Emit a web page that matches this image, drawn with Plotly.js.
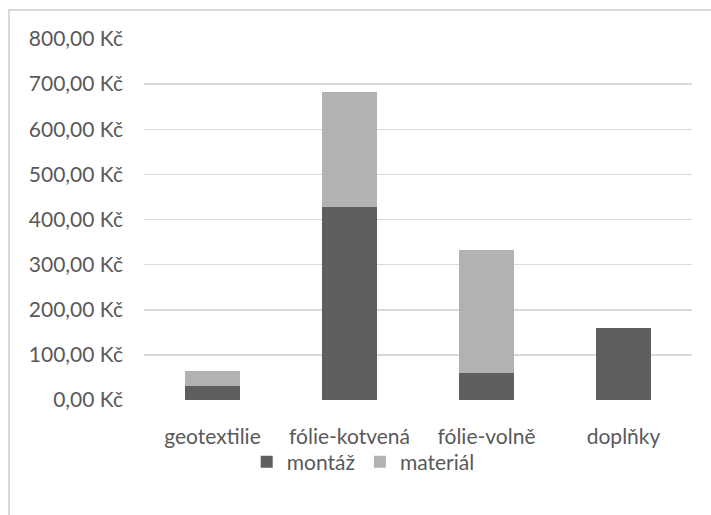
<!DOCTYPE html>
<html>
<head>
<meta charset="utf-8">
<script src="https://cdn.plot.ly/plotly-3.0.1.min.js"></script>
<style>
  html, body { margin: 0; padding: 0; background: #fff; }
  #wrap { position: relative; width: 711px; height: 515px; }
  #chart { width: 711px; height: 515px; }
  #frame { position: absolute; left: 8px; top: 9px; width: 720px; height: 520px;
           border-left: 2px solid #d9d9d9; border-top: 2px solid #d9d9d9; pointer-events: none; }
</style>
</head>
<body>
<div id="wrap">
  <div id="chart"></div>
  <div id="frame"></div>
</div>
<script>
const categories = ["geotextilie", "fólie-kotvená", "fólie-volně", "doplňky"];
const montaz = [31, 428, 60, 160];
const material = [34, 254, 272, 0];
const tickValues = [0, 100, 200, 300, 400, 500, 600, 700, 800];
const tickLabels = ["0,00 Kč", "100,00 Kč", "200,00 Kč", "300,00 Kč", "400,00 Kč",
                    "500,00 Kč", "600,00 Kč", "700,00 Kč", "800,00 Kč"];

const font = { family: "Lato, 'Noto Sans', sans-serif", size: 21, color: "#595959" };

const data = [
  { type: "bar", name: "montáž", x: categories, y: montaz,
    marker: { color: "#5f5f5f" }, hoverinfo: "skip" },
  { type: "bar", name: "materiál", x: categories, y: material,
    marker: { color: "#b2b2b2" }, hoverinfo: "skip" }
];

const layout = {
  width: 711, height: 515,
  margin: { l: 144, r: 19, t: 39, b: 115 },
  paper_bgcolor: "#ffffff", plot_bgcolor: "#ffffff",
  barmode: "stack", bargap: 0.6,
  font: font,
  showlegend: true,
  legend: { orientation: "h", x: 0.40, xanchor: "center", y: -0.172, yanchor: "middle",
            bgcolor: "rgba(0,0,0,0)", font: font, traceorder: "normal",
            itemwidth: 30, tracegroupgap: 0 },
  xaxis: { showgrid: false, zeroline: false, showline: false, ticks: "",
           tickfont: font, ticklabelstandoff: 22, fixedrange: true },
  yaxis: { range: [0, 800], tickvals: tickValues, ticktext: tickLabels,
           showgrid: true, gridcolor: "#d9d9d9", gridwidth: 1.5, zeroline: false,
           showline: false, ticks: "", tickfont: font, ticklabelstandoff: 20, fixedrange: true }
};

Plotly.newPlot("chart", data, layout, { displayModeBar: false, staticPlot: true });
</script>
</body>
</html>
